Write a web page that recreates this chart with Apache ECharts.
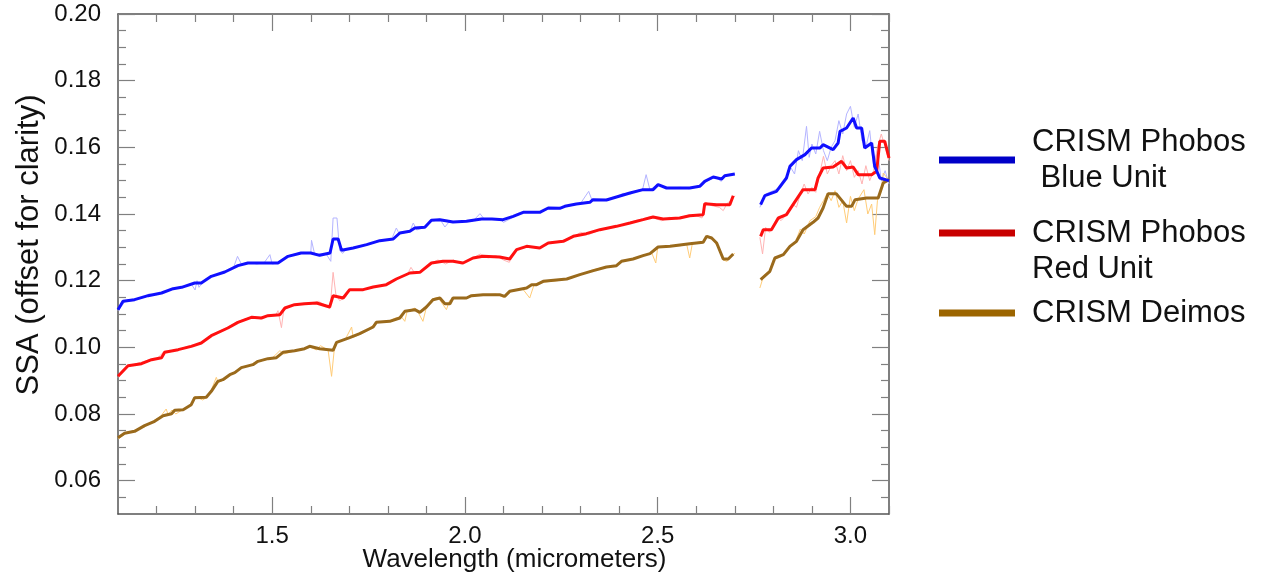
<!DOCTYPE html>
<html>
<head>
<meta charset="utf-8">
<script src="https://cdn.jsdelivr.net/npm/echarts@6/dist/echarts.min.js"></script>
<style>
html,body{margin:0;padding:0;background:#fff;}
#chart{width:1274px;height:577px;}
</style>
</head>
<body>
<div id="chart"></div>
<script>
// ---------- data (wavelength in micrometers, SSA) ----------
const blueUnit = [[1.100,0.1113],[1.113,0.1138],[1.143,0.1143],[1.178,0.1155],[1.213,0.1163],[1.243,0.1176],[1.265,0.1180],[1.299,0.1193],[1.316,0.1193],[1.342,0.1213],[1.377,0.1226],[1.411,0.1245],[1.437,0.1253],[1.515,0.1253],[1.541,0.1273],[1.575,0.1283],[1.600,0.1283],[1.623,0.1276],[1.650,0.1283],[1.658,0.1325],[1.671,0.1325],[1.680,0.1291],[1.710,0.1298],[1.745,0.1308],[1.779,0.1320],[1.814,0.1325],[1.831,0.1343],[1.857,0.1348],[1.870,0.1358],[1.896,0.1360],[1.913,0.1381],[1.935,0.1383],[1.969,0.1376],[2.004,0.1378],[2.043,0.1385],[2.070,0.1385],[2.099,0.1383],[2.125,0.1393],[2.151,0.1405],[2.194,0.1405],[2.216,0.1418],[2.246,0.1417],[2.259,0.1423],[2.289,0.1430],[2.324,0.1435],[2.332,0.1443],[2.367,0.1442],[2.393,0.1451],[2.428,0.1463],[2.462,0.1473],[2.488,0.1473],[2.501,0.1488],[2.523,0.1478],[2.583,0.1478],[2.609,0.1483],[2.622,0.1498],[2.644,0.1511],[2.666,0.1505],[2.674,0.1515],[2.700,0.1520],[2.730,'-'],[2.767,0.1428],[2.778,0.1455],[2.808,0.1468],[2.834,0.1508],[2.843,0.1543],[2.860,0.1563],[2.882,0.1578],[2.899,0.1598],[2.921,0.1598],[2.929,0.1608],[2.955,0.1593],[2.968,0.1613],[2.973,0.1648],[2.990,0.1658],[3.007,0.1688],[3.016,0.1658],[3.029,0.1658],[3.037,0.1598],[3.055,0.1613],[3.063,0.1543],[3.076,0.1508],[3.100,0.1500]];

const redUnit = [[1.100,0.0913],[1.126,0.0945],[1.161,0.0951],[1.187,0.0963],[1.213,0.0969],[1.221,0.0985],[1.256,0.0993],[1.290,0.1003],[1.316,0.1013],[1.342,0.1035],[1.385,0.1058],[1.411,0.1075],[1.446,0.1090],[1.472,0.1088],[1.489,0.1095],[1.520,0.1098],[1.533,0.1118],[1.558,0.1128],[1.584,0.1131],[1.615,0.1133],[1.649,0.1121],[1.658,0.1155],[1.684,0.1148],[1.701,0.1173],[1.736,0.1173],[1.762,0.1181],[1.796,0.1188],[1.822,0.1205],[1.857,0.1223],[1.883,0.1225],[1.913,0.1253],[1.943,0.1258],[1.969,0.1258],[1.995,0.1253],[2.021,0.1268],[2.047,0.1273],[2.090,0.1271],[2.116,0.1265],[2.134,0.1293],[2.160,0.1303],[2.194,0.1298],[2.216,0.1313],[2.255,0.1318],[2.281,0.1333],[2.315,0.1341],[2.350,0.1353],[2.393,0.1363],[2.428,0.1373],[2.462,0.1383],[2.488,0.1391],[2.514,0.1385],[2.557,0.1388],[2.583,0.1395],[2.618,0.1398],[2.622,0.1431],[2.653,0.1428],[2.687,0.1428],[2.696,0.1455],[2.730,'-'],[2.767,0.1333],[2.774,0.1353],[2.795,0.1353],[2.813,0.1388],[2.834,0.1398],[2.851,0.1428],[2.877,0.1473],[2.908,0.1473],[2.916,0.1508],[2.929,0.1538],[2.955,0.1541],[2.977,0.1558],[2.990,0.1538],[3.007,0.1541],[3.020,0.1518],[3.055,0.1518],[3.068,0.1528],[3.076,0.1618],[3.089,0.1618],[3.100,0.1568]];

const deimos = [[1.100,0.0729],[1.117,0.0742],[1.143,0.0748],[1.169,0.0765],[1.195,0.0778],[1.217,0.0795],[1.239,0.0801],[1.247,0.0811],[1.269,0.0813],[1.290,0.0828],[1.299,0.0849],[1.329,0.0850],[1.342,0.0868],[1.359,0.0898],[1.372,0.0903],[1.390,0.0918],[1.403,0.0924],[1.420,0.0939],[1.450,0.0948],[1.463,0.0958],[1.489,0.0966],[1.511,0.0969],[1.528,0.0985],[1.558,0.0990],[1.584,0.0996],[1.597,0.1003],[1.623,0.0996],[1.658,0.0991],[1.667,0.1015],[1.701,0.1029],[1.727,0.1041],[1.762,0.1061],[1.770,0.1075],[1.805,0.1078],[1.831,0.1088],[1.844,0.1108],[1.870,0.1113],[1.883,0.1105],[1.900,0.1121],[1.917,0.1143],[1.935,0.1148],[1.948,0.1131],[1.961,0.1131],[1.969,0.1148],[2.004,0.1148],[2.017,0.1155],[2.047,0.1158],[2.090,0.1158],[2.103,0.1153],[2.116,0.1168],[2.160,0.1178],[2.173,0.1188],[2.186,0.1188],[2.203,0.1198],[2.264,0.1205],[2.298,0.1218],[2.333,0.1230],[2.367,0.1241],[2.393,0.1245],[2.406,0.1258],[2.436,0.1265],[2.462,0.1275],[2.480,0.1281],[2.501,0.1301],[2.532,0.1303],[2.583,0.1311],[2.618,0.1315],[2.627,0.1333],[2.640,0.1328],[2.653,0.1313],[2.670,0.1265],[2.683,0.1265],[2.696,0.1280],[2.730,'-'],[2.767,0.1203],[2.791,0.1228],[2.804,0.1268],[2.826,0.1278],[2.843,0.1303],[2.860,0.1318],[2.877,0.1353],[2.903,0.1375],[2.916,0.1388],[2.929,0.1418],[2.942,0.1461],[2.963,0.1461],[2.990,0.1423],[3.003,0.1423],[3.012,0.1443],[3.042,0.1448],[3.072,0.1448],[3.085,0.1493],[3.100,0.1503]];

// raw (unsmoothed) spectra drawn as faint lines
const blueRaw = [[1.10,0.1110],[1.12,0.1140],[1.14,0.1145],[1.17,0.1150],[1.18,0.1160],[1.20,0.1158],[1.22,0.1166],[1.25,0.1178],[1.27,0.1182],[1.29,0.1190],[1.30,0.1172],[1.305,0.1200],[1.31,0.1180],[1.32,0.1195],[1.34,0.1212],[1.38,0.1228],[1.40,0.1240],[1.41,0.1273],[1.42,0.1250],[1.44,0.1255],[1.46,0.1250],[1.48,0.1255],[1.494,0.1278],[1.50,0.1250],[1.52,0.1255],[1.54,0.1275],[1.58,0.1285],[1.60,0.1283],[1.602,0.1321],[1.61,0.1280],[1.64,0.1280],[1.652,0.1258],[1.658,0.1388],[1.668,0.1388],[1.675,0.1290],[1.683,0.1282],[1.69,0.1293],[1.71,0.1298],[1.75,0.1310],[1.78,0.1318],[1.81,0.1325],[1.822,0.1358],[1.83,0.1340],[1.857,0.1348],[1.866,0.1373],[1.875,0.1352],[1.90,0.1362],[1.915,0.1380],[1.935,0.1385],[1.948,0.1361],[1.96,0.1378],[1.98,0.1376],[2.00,0.1380],[2.02,0.1378],[2.039,0.1401],[2.05,0.1385],[2.07,0.1384],[2.09,0.1385],[2.10,0.1375],[2.13,0.1393],[2.15,0.1405],[2.19,0.1405],[2.22,0.1418],[2.25,0.1417],[2.27,0.1425],[2.30,0.1432],[2.321,0.1468],[2.33,0.1440],[2.36,0.1442],[2.39,0.1450],[2.41,0.1462],[2.43,0.1460],[2.45,0.1472],[2.46,0.1470],[2.47,0.1518],[2.48,0.1472],[2.50,0.1490],[2.52,0.1478],[2.56,0.1480],[2.58,0.1476],[2.61,0.1485],[2.63,0.1500],[2.65,0.1510],[2.665,0.1498],[2.675,0.1516],[2.69,0.1518],[2.70,0.1520],[2.73,'-'],[2.765,0.1420],[2.78,0.1460],[2.80,0.1470],[2.82,0.1480],[2.835,0.1515],[2.845,0.1540],[2.855,0.1520],[2.865,0.1590],[2.875,0.1560],[2.886,0.1663],[2.893,0.1570],[2.90,0.1610],[2.91,0.1580],[2.92,0.1648],[2.93,0.1590],[2.94,0.1560],[2.95,0.1600],[2.96,0.1620],[2.97,0.1680],[2.98,0.1640],[2.99,0.1700],[3.00,0.1723],[3.01,0.1660],[3.02,0.1700],[3.03,0.1620],[3.04,0.1600],[3.05,0.1650],[3.06,0.1540],[3.07,0.1590],[3.08,0.1500],[3.09,0.1530],[3.10,0.1490]];

const redRaw = [[1.10,0.0910],[1.12,0.0940],[1.15,0.0952],[1.18,0.0962],[1.20,0.0965],[1.22,0.0988],[1.25,0.0990],[1.28,0.1003],[1.30,0.1008],[1.32,0.1015],[1.34,0.1035],[1.37,0.1052],[1.39,0.1064],[1.41,0.1077],[1.43,0.1085],[1.45,0.1093],[1.47,0.1085],[1.49,0.1097],[1.51,0.1098],[1.515,0.1110],[1.524,0.1059],[1.53,0.1112],[1.55,0.1125],[1.58,0.1132],[1.60,0.1130],[1.62,0.1138],[1.64,0.1125],[1.650,0.1116],[1.658,0.1225],[1.665,0.1160],[1.675,0.1140],[1.69,0.1150],[1.70,0.1172],[1.74,0.1173],[1.77,0.1182],[1.80,0.1190],[1.83,0.1210],[1.85,0.1218],[1.86,0.1240],[1.87,0.1222],[1.89,0.1228],[1.91,0.1252],[1.93,0.1262],[1.95,0.1250],[1.97,0.1262],[1.99,0.1250],[2.02,0.1268],[2.04,0.1280],[2.06,0.1268],[2.08,0.1275],[2.10,0.1262],[2.115,0.1255],[2.13,0.1290],[2.16,0.1305],[2.19,0.1296],[2.22,0.1313],[2.25,0.1320],[2.28,0.1330],[2.30,0.1345],[2.32,0.1338],[2.35,0.1352],[2.39,0.1365],[2.42,0.1370],[2.44,0.1380],[2.46,0.1385],[2.48,0.1392],[2.51,0.1380],[2.53,0.1390],[2.55,0.1385],[2.58,0.1397],[2.60,0.1395],[2.615,0.1388],[2.625,0.1435],[2.64,0.1425],[2.66,0.1420],[2.67,0.1410],[2.68,0.1432],[2.69,0.1440],[2.70,0.1455],[2.73,'-'],[2.765,0.1330],[2.772,0.1280],[2.78,0.1360],[2.79,0.1345],[2.80,0.1365],[2.81,0.1390],[2.82,0.1380],[2.835,0.1400],[2.85,0.1430],[2.86,0.1420],[2.87,0.1460],[2.88,0.1490],[2.89,0.1460],[2.90,0.1480],[2.91,0.1465],[2.92,0.1520],[2.93,0.1573],[2.94,0.1520],[2.95,0.1545],[2.96,0.1560],[2.97,0.1520],[2.98,0.1575],[2.99,0.1530],[3.00,0.1560],[3.01,0.1510],[3.02,0.1530],[3.03,0.1490],[3.04,0.1545],[3.05,0.1500],[3.06,0.1530],[3.07,0.1600],[3.08,0.1640],[3.09,0.1600],[3.10,0.1560]];

const deimosRaw = [[1.10,0.0725],[1.12,0.0742],[1.14,0.0750],[1.17,0.0762],[1.19,0.0778],[1.21,0.0792],[1.225,0.0815],[1.23,0.0798],[1.24,0.0812],[1.25,0.0800],[1.27,0.0815],[1.29,0.0828],[1.30,0.0852],[1.32,0.0842],[1.33,0.0850],[1.34,0.0866],[1.355,0.0910],[1.36,0.0895],[1.38,0.0905],[1.40,0.0925],[1.42,0.0940],[1.44,0.0945],[1.46,0.0958],[1.48,0.0962],[1.50,0.0968],[1.52,0.0990],[1.53,0.0980],[1.56,0.0990],[1.58,0.0996],[1.60,0.1000],[1.615,0.0992],[1.625,0.1005],[1.645,0.0992],[1.654,0.0913],[1.662,0.1005],[1.67,0.1015],[1.69,0.1025],[1.706,0.1061],[1.71,0.1030],[1.73,0.1040],[1.75,0.1055],[1.77,0.1075],[1.80,0.1078],[1.82,0.1088],[1.835,0.1092],[1.844,0.1078],[1.85,0.1108],[1.87,0.1118],[1.88,0.1102],[1.891,0.1078],[1.90,0.1120],[1.915,0.1145],[1.93,0.1150],[1.942,0.1130],[1.952,0.1113],[1.96,0.1140],[1.975,0.1148],[2.00,0.1146],[2.02,0.1158],[2.05,0.1157],[2.08,0.1160],[2.10,0.1150],[2.12,0.1168],[2.15,0.1175],[2.168,0.1148],[2.18,0.1190],[2.20,0.1195],[2.24,0.1200],[2.27,0.1207],[2.30,0.1218],[2.33,0.1232],[2.36,0.1240],[2.39,0.1244],[2.41,0.1260],[2.44,0.1265],[2.47,0.1278],[2.485,0.1282],[2.495,0.1253],[2.50,0.1300],[2.53,0.1303],[2.56,0.1305],[2.575,0.1310],[2.583,0.1268],[2.59,0.1312],[2.62,0.1318],[2.63,0.1335],[2.645,0.1320],[2.66,0.1295],[2.67,0.1262],[2.68,0.1258],[2.69,0.1275],[2.70,0.1282],[2.73,'-'],[2.765,0.1178],[2.775,0.1215],[2.79,0.1230],[2.80,0.1262],[2.82,0.1272],[2.84,0.1300],[2.855,0.1310],[2.87,0.1355],[2.88,0.1340],[2.895,0.1380],[2.91,0.1392],[2.92,0.1420],[2.93,0.1440],[2.94,0.1462],[2.95,0.1440],[2.96,0.1470],[2.97,0.1420],[2.98,0.1440],[2.99,0.1373],[3.00,0.1453],[3.01,0.1410],[3.02,0.1445],[3.035,0.1473],[3.045,0.1400],[3.055,0.1430],[3.063,0.1338],[3.07,0.1440],[3.08,0.1470],[3.085,0.1523],[3.10,0.1500]];

// tick values
const xMajorTicks = [1.5, 2.0, 2.5, 3.0];
const xMinorTicks = [1.2, 1.3, 1.4, 1.6, 1.7, 1.8, 1.9, 2.1, 2.2, 2.3, 2.4, 2.6, 2.7, 2.8, 2.9, 3.1];
const yMajorTicks = [0.06, 0.08, 0.10, 0.12, 0.14, 0.16, 0.18, 0.20];
const yMinorTicks = [0.055, 0.065, 0.07, 0.075, 0.085, 0.09, 0.095, 0.105, 0.11, 0.115, 0.125, 0.13, 0.135, 0.145, 0.15, 0.155, 0.165, 0.17, 0.175, 0.185, 0.19, 0.195];

const seriesNames = ['CRISM Phobos\n Blue Unit', 'CRISM Phobos\nRed Unit', 'CRISM Deimos'];

// ---------- chart ----------
const FONT = 'Liberation Sans';
const AXIS_COLOR = '#555';
const TICK_COLOR = '#808080';
const X_MIN = 1.1, X_MAX = 3.1, Y_MIN = 0.05, Y_MAX = 0.20;

function xAxisDef(pos, ticks, len, showLabel, showLine, extra) {
  return Object.assign({
    type: 'value', position: pos, min: X_MIN, max: X_MAX, gridIndex: 0,
    axisLine: { show: showLine, onZero: false, lineStyle: { color: AXIS_COLOR, width: 1.5 } },
    axisTick: { show: true, inside: true, length: len, customValues: ticks, lineStyle: { color: TICK_COLOR, width: 1.2 } },
    axisLabel: showLabel ? { show: true, customValues: xMajorTicks, formatter: v => v.toFixed(1), fontFamily: FONT, fontSize: 24, color: '#111', margin: 10 } : { show: false },
    splitLine: { show: false }
  }, extra || {});
}
function yAxisDef(pos, ticks, len, showLabel, showLine, extra) {
  return Object.assign({
    type: 'value', position: pos, min: Y_MIN, max: Y_MAX, gridIndex: 0,
    axisLine: { show: showLine, onZero: false, lineStyle: { color: AXIS_COLOR, width: 1.5 } },
    axisTick: { show: true, inside: true, length: len, customValues: ticks, lineStyle: { color: TICK_COLOR, width: 1.2 } },
    axisLabel: showLabel ? { show: true, customValues: yMajorTicks, formatter: v => v.toFixed(2), fontFamily: FONT, fontSize: 24, color: '#111', margin: 17 } : { show: false },
    splitLine: { show: false }
  }, extra || {});
}

function lineSeries(name, data, color, width, z) {
  return {
    name: name, type: 'line', data: data, xAxisIndex: 0, yAxisIndex: 0,
    showSymbol: false, symbol: 'none', connectNulls: false, z: z,
    lineStyle: { color: color, width: width }, itemStyle: { color: color },
    emphasis: { disabled: true }, silent: true
  };
}

function legendDef(name, color, top, fmt) {
  return {
    show: true, left: 939, top: top, padding: 0, orient: 'vertical',
    icon: 'rect', itemWidth: 76, itemHeight: 7, selectedMode: false,
    data: [{ name: name, itemStyle: { color: color } }],
    formatter: fmt,
    textStyle: { fontFamily: FONT, fontSize: 31, color: '#111', lineHeight: 36, padding: [0, 0, 0, 12] }
  };
}

const chart = echarts.init(document.getElementById('chart'), null, { renderer: 'canvas' });
chart.setOption({
  animation: false,
  backgroundColor: '#fff',
  grid: { left: 118, right: 385, top: 14, bottom: 63, containLabel: false, outerBoundsMode: 'none' },
  xAxis: [
    xAxisDef('bottom', xMajorTicks, 17, true, true, {
      name: 'Wavelength (micrometers)', nameLocation: 'middle', nameGap: 33, nameMoveOverlap: false,
      nameTextStyle: { fontFamily: FONT, fontSize: 26, color: '#111', padding: [0, 0, 0, 22] }
    }),
    xAxisDef('bottom', xMinorTicks, 8, false, false),
    xAxisDef('top', xMajorTicks, 17, false, true),
    xAxisDef('top', xMinorTicks, 8, false, false)
  ],
  yAxis: [
    yAxisDef('left', yMajorTicks, 17, true, true, {
      name: 'SSA (offset for clarity)', nameLocation: 'middle', nameGap: 73, nameRotate: 90, nameMoveOverlap: false,
      nameTextStyle: { fontFamily: FONT, fontSize: 31, color: '#111', padding: [0, 0, 0, 38] }
    }),
    yAxisDef('left', yMinorTicks, 8, false, false),
    yAxisDef('right', yMajorTicks, 17, false, true),
    yAxisDef('right', yMinorTicks, 8, false, false)
  ],
  legend: [
    legendDef(seriesNames[0], '#0000c8', 124, n => n),
    legendDef(seriesNames[1], '#c80000', 179, n => '\n' + n),
    legendDef(seriesNames[2], '#9c6500', 295, n => n)
  ],
  series: [
    lineSeries('Blue raw', blueRaw, '#b4b4ff', 1, 1),
    lineSeries('Red raw', redRaw, '#ffb4b4', 1, 1),
    lineSeries('Deimos raw', deimosRaw, '#ffcc77', 1, 1),
    lineSeries(seriesNames[2], deimos, '#9a6a1c', 3, 3),
    lineSeries(seriesNames[1], redUnit, '#ff1010', 3, 3),
    lineSeries(seriesNames[0], blueUnit, '#1010ff', 3, 3)
  ]
});
</script>
</body>
</html>
